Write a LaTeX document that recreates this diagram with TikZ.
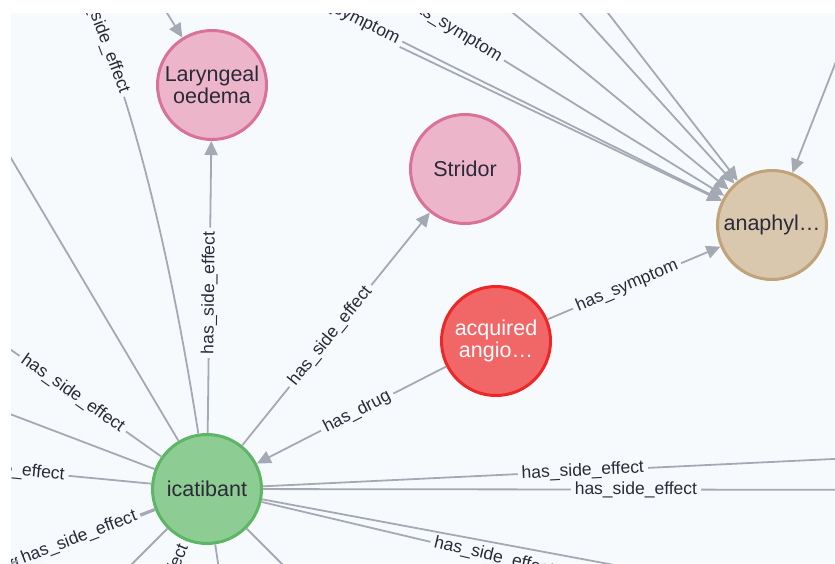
\documentclass[tikz,border=0pt]{standalone}
\usepackage{fontspec}
\setmainfont{Liberation Sans}
\usetikzlibrary{arrows.meta}
\definecolor{bgpanel}{HTML}{F7FAFD}
\definecolor{edgecol}{HTML}{A5A9B3}
\definecolor{txtcol}{HTML}{2B2B37}
\definecolor{pinkfill}{HTML}{ECB5C9}
\definecolor{pinkdraw}{HTML}{DA7298}
\definecolor{tanfill}{HTML}{D9C8AE}
\definecolor{tandraw}{HTML}{C0A378}
\definecolor{redfill}{HTML}{F16667}
\definecolor{reddraw}{HTML}{EB2728}
\definecolor{greenfill}{HTML}{8DCC93}
\definecolor{greendraw}{HTML}{5DB665}
\tikzset{
  gnode/.style={circle, minimum size=109pt, inner sep=0pt, line width=3pt, align=center,
    font=\fontsize{21.5}{22}\selectfont, text=txtcol},
  rel/.style={draw=edgecol, line width=1.8pt},
  arr/.style={rel, -{Triangle[length=14pt,width=13pt]}},
  elab/.style={sloped, fill=bgpanel, inner xsep=4pt, inner ysep=1pt, text=txtcol,
    font=\fontsize{17.5}{17.5}\selectfont},
}
\begin{document}
\begin{tikzpicture}[x=1pt,y=-1pt]
\useasboundingbox (0,0) rectangle (835,563);
\fill[white] (0,0) rectangle (835,563);
\fill[bgpanel] (11,13) rectangle (835,563);
\begin{scope}
\clip (11,13) rectangle (835,563);
% nodes
\node[gnode, fill=pinkfill, draw=pinkdraw] (lar) at (212,85) {Laryngeal\\oedema};
\node[gnode, fill=pinkfill, draw=pinkdraw] (str) at (465,169) {Stridor};
\node[gnode, fill=tanfill, draw=tandraw] (ana) at (772,225) {anaphyl…};
\node[gnode, fill=redfill, draw=reddraw, text=white] (acq) at (496,341) {acquired\\angio…};
\node[gnode, fill=greenfill, draw=greendraw] (ica) at (207,489) {icatibant};
% off-screen ends
\coordinate (fA) at (195,-51);
\coordinate (fB) at (145,-86);
\coordinate (fC) at (176,-141);
\coordinate (fD) at (358,-114);
\coordinate (fE) at (484,-93);
\coordinate (fF) at (526,-93);
\coordinate (fG) at (866,-15);
\coordinate (fL) at (122,-59);
\coordinate (e1) at (60,-60);
\coordinate (e2) at (-30,89);
\coordinate (e3) at (-100,271);
\coordinate (e4) at (-40,395);
\coordinate (e5) at (-150,455);
\coordinate (e6) at (-167,631);
\coordinate (e7) at (-210,658);
\coordinate (e8) at (36,905);
\coordinate (e9) at (-93,789);
\coordinate (e10) at (251,785);
\coordinate (e11) at (507,789);
\coordinate (e12) at (1000,451);
\coordinate (e13) at (1000,490);
\coordinate (e14) at (888,650);
\coordinate (e15) at (1000,637);
% edges into anaphylaxis
\draw[arr] (fA) -- (ana);
\draw[arr] (fB) -- (ana) node[elab, pos=0.355] {has\_symptom};
\draw[arr] (fC) -- (ana) node[elab, pos=0.507] {has\_symptom};
\draw[arr] (fD) -- (ana);
\draw[arr] (fE) -- (ana);
\draw[arr] (fF) -- (ana);
\draw[arr] (fG) -- (ana);
\draw[arr] (fL) -- (lar);
% main edges
\draw[arr] (ica) -- (lar) node[elab, pos=0.48] {has\_side\_effect};
\draw[arr] (ica) -- (str) node[elab, pos=0.47] {has\_side\_effect};
\draw[arr] (acq) -- (ica) node[elab, pos=0.47] {has\_drug};
\draw[arr] (acq) -- (ana) node[elab, pos=0.46] {has\_symptom};
% icatibant edges leaving the view
\draw[rel] (ica) .. controls (163,208) and (116.7,43.3) .. (e1) node[elab, pos=0.735] {has\_side\_effect};
\draw[rel] (ica) -- (e2);
\draw[rel] (ica) -- (e3) node[elab, pos=0.339] {has\_side\_effect};
\draw[rel] (ica) -- (e4);
\draw[rel] (ica) -- (e5) node[elab, pos=0.49] {has\_side\_effect};
\draw[rel] (ica) -- (e7) node[elab, pos=0.465] {has\_side\_effect};
\draw[rel] (ica) -- (e6) node[elab, pos=0.235] {has\_side\_effect};
\draw[rel] (ica) -- (e8) node[elab, pos=0.167] {has\_side\_effect};
\draw[rel] (ica) -- (e9);
\draw[rel] (ica) -- (e10);
\draw[rel] (ica) -- (e11);
\draw[rel] (ica) -- (e12) node[elab, pos=0.434] {has\_side\_effect};
\draw[rel] (ica) -- (e13) node[elab, pos=0.506] {has\_side\_effect};
\draw[rel] (ica) -- (e14) node[elab, pos=0.371] {has\_side\_effect};
\draw[rel] (ica) -- (e15);
\end{scope}
\end{tikzpicture}
\end{document}
